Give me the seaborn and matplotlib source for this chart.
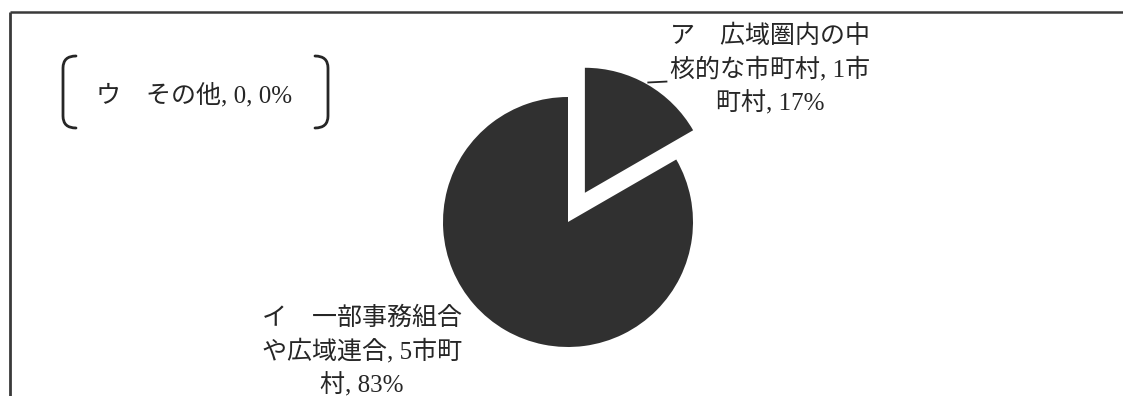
import math
import matplotlib
matplotlib.use("Agg")
import matplotlib.pyplot as plt
from matplotlib.path import Path
from matplotlib.patches import PathPatch
import seaborn as sns

# --- data -------------------------------------------------------------
codes = ["ア", "イ", "ウ"]
names = ["広域圏内の中核的な市町村", "一部事務組合や広域連合", "その他"]
counts = [1, 5, 0]
unit = "市町村"

sns.set_theme(style="white")
plt.rcParams["font.family"] = ["Liberation Serif", "Noto Sans CJK JP", "DejaVu Sans"]

W, H = 1123, 396
fig = plt.figure(figsize=(W / 100, H / 100), dpi=100, facecolor="white")
ax = fig.add_axes([0, 0, 1, 1])

ink = "#262626"
pie_color = "#303030"


def vwidth(ch):
    return 2 if ord(ch) > 0x2E80 else 1


def wrap(text, width=17):
    lines, cur, w = [], "", 0
    for ch in text:
        cw = vwidth(ch)
        if w + cw > width:
            lines.append(cur)
            cur, w = "", 0
        cur += ch
        w += cw
    lines.append(cur)
    return "\n".join(lines)


total = sum(counts)
labels = []
for c, n, k in zip(codes, names, counts):
    pct = round(100 * k / total)
    num = f"{k}{unit}" if k > 0 else f"{k}"
    labels.append(wrap(f"{c}\u3000{n}, {num}, {pct}%"))

# --- pie ---------------------------------------------------------------
radius = 125
center = (568, H - 222)
explode = [0.27 * radius, 0, 0]
wedges, _ = ax.pie(counts, startangle=90, counterclock=False, center=center,
                   radius=radius, explode=explode, colors=[pie_color] * 3,
                   wedgeprops=dict(linewidth=0))
ax.set_xlim(0, W)
ax.set_ylim(0, H)
ax.set_axis_off()

fs = 18
ls = 1.45
# label for the small slice, with a short leader from the arc midpoint
w0 = wedges[0]
mid = math.radians((w0.theta1 + w0.theta2) / 2)
ex = w0.center[0] + w0.r * math.cos(mid)
ey = w0.center[1] + w0.r * math.sin(mid)
ax.plot([ex, ex + 20], [ey + 2, ey + 3], color=ink, lw=1.3, solid_capstyle="butt")
ax.text(770, H - 70, labels[0], ha="center", va="center", fontsize=fs,
        color=ink, linespacing=ls)

# label for the large slice
ax.text(362, H - 352, labels[1], ha="center", va="center", fontsize=fs,
        color=ink, linespacing=ls)

# zero slice label, set apart in brackets
ax.text(194, H - 95, labels[2], ha="center", va="center", fontsize=fs,
        color=ink)


def bracket(x_edge, x_tip, y_top, y_bot, r=12):
    verts = [(x_tip, y_top), (x_edge, y_top), (x_edge, y_top - r),
             (x_edge, y_bot + r), (x_edge, y_bot), (x_tip, y_bot)]
    codes_ = [Path.MOVETO, Path.CURVE3, Path.CURVE3,
              Path.LINETO, Path.CURVE3, Path.CURVE3]
    ax.add_patch(PathPatch(Path(verts, codes_), fill=False, edgecolor=ink,
                           lw=2.0, capstyle="round"))


bracket(63, 76, H - 56, H - 128)
bracket(328, 315, H - 56, H - 128)

# page frame (left and top rules)
ax.plot([10, 10], [0, H - 12], color="#3a3a3a", lw=2.0, solid_capstyle="butt")
ax.plot([10, W + 5], [H - 12, H - 12], color="#3a3a3a", lw=1.8, solid_capstyle="butt")

fig.savefig("out.png", dpi=100, facecolor="white")
